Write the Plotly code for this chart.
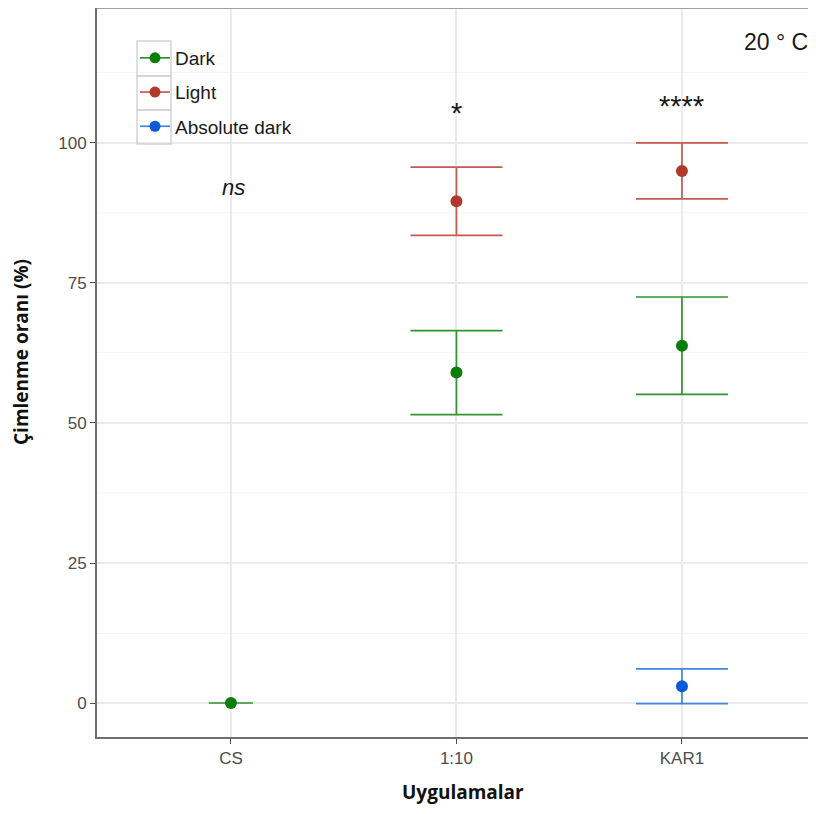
import plotly.graph_objects as go

categories = ["CS", "1:10", "KAR1"]
dark_x = ["CS", "1:10", "KAR1"]
dark_mean = [0.0, 59.0, 63.8]
dark_err = [0.0, 7.5, 8.7]
light_x = ["1:10", "KAR1"]
light_mean = [89.6, 95.0]
light_err = [6.1, 5.0]
abs_x = ["KAR1"]
abs_mean = [3.0]
abs_err = [3.1]
sig_x = ["CS", "1:10", "KAR1"]
sig_y = [92, 105.4, 106.6]
sig_text = ["<i>ns</i>", "*", "****"]

xpos = {c: i + 1 for i, c in enumerate(categories)}

GREEN = "#0b7d0b"
RED = "#b0392b"
BLUE = "#0a5ad6"
GREEN_E = "#2f952f"
RED_E = "#c45a50"
BLUE_E = "#3f88e0"

# figure is drawn with an 8px page offset
W, H = 800, 798
L, R, T, B = 89, 0, 0, 69
# screen coords of the plot area
SX0, SX1, SY0, SY1 = 97, 808, 8, 737

def px(x):
    return (x - SX0) / (SX1 - SX0)

def py(y):
    return (SY1 - y) / (SY1 - SY0)

fig = go.Figure()

def add_series(xs, ms, es, col, ecol, width):
    fig.add_trace(go.Scatter(
        x=[xpos[c] for c in xs], y=ms, mode="markers",
        marker=dict(color=col, size=12),
        error_y=dict(type="data", array=es, visible=True, color=ecol, thickness=1.7, width=width),
        showlegend=False, hoverinfo="skip"))

add_series(dark_x[:1], dark_mean[:1], dark_err[:1], GREEN, GREEN_E, 22)
add_series(dark_x[1:], dark_mean[1:], dark_err[1:], GREEN, GREEN_E, 46)
add_series(light_x, light_mean, light_err, RED, RED_E, 46)
add_series(abs_x, abs_mean, abs_err, BLUE, BLUE_E, 46)

for name, col, ecol, g in [("Dark", GREEN, GREEN_E, "a"), ("Light", RED, RED_E, "b"), ("Absolute dark", BLUE, BLUE_E, "c")]:
    fig.add_trace(go.Scatter(x=[None], y=[None], mode="lines+markers", name=name,
                             legendgroup=g,
                             marker=dict(color=col, size=11), line=dict(color=ecol, width=1.7)))

for c, yv, t in zip(sig_x, sig_y, sig_text):
    fig.add_annotation(x=xpos[c], y=yv, text=t, showarrow=False,
                       xshift=3 if "ns" in t else 0,
                       font=dict(family="Liberation Sans, Arial", size=22 if "ns" in t else 29, color="#1a1a1a"))

fig.add_annotation(x=px(776), y=py(42), xref="paper", yref="paper", text="20 ° C", showarrow=False,
                   xanchor="center", yanchor="middle",
                   font=dict(family="Liberation Sans, Arial", size=23, color="#1a1a1a"))

# axis titles
fig.add_annotation(x=px(21), y=py(352), xref="paper", yref="paper", text="<b>Çimlenme oranı (%)</b>",
                   textangle=-90, showarrow=False, xanchor="center", yanchor="middle",
                   font=dict(family="Open Sans", size=19, color="#111"))
fig.add_annotation(x=px(463), y=py(806), xref="paper", yref="paper", text="<b>Uygulamalar</b>",
                   showarrow=False, xanchor="center", yanchor="bottom", borderpad=0,
                   font=dict(family="Open Sans", size=19, color="#111"))

shapes = []
# legend background (covers grid, under traces)
shapes.append(dict(type="rect", xref="paper", yref="paper", x0=px(133), x1=px(302), y0=py(150), y1=py(36),
                   fillcolor="white", line=dict(width=0), layer="between"))
# top border
shapes.append(dict(type="line", xref="paper", yref="paper", x0=0, x1=1, y0=1, y1=1,
                   line=dict(color="#a0a0a0", width=2)))
# legend key boxes
tops = [41, 76, 110, 144]
for i in range(3):
    shapes.append(dict(type="rect", xref="paper", yref="paper",
                       x0=px(137), x1=px(171), y0=py(tops[i]), y1=py(tops[i + 1]),
                       line=dict(color="#d4d4d4", width=1.5), layer="above"))
fig.update_layout(shapes=shapes)

fig.update_layout(
    width=W, height=H,
    margin=dict(l=L, r=R, t=T, b=B),
    paper_bgcolor="white", plot_bgcolor="white",
    font=dict(family="Liberation Sans, Arial", color="#4d4d4d"),
    legend=dict(x=px(135), y=py(39), xanchor="left", yanchor="top",
                bgcolor="rgba(255,255,255,0)", font=dict(size=19, color="#1a1a1a"),
                tracegroupgap=6.5, traceorder="grouped"),
    xaxis=dict(range=[0.406, 3.559], tickmode="array", tickvals=[1, 2, 3], ticktext=categories,
               showgrid=True, gridcolor="#ebebeb", gridwidth=1.5, zeroline=False,
               showline=True, linecolor="#6e6e6e", linewidth=2,
               ticks="outside", ticklen=5, tickcolor="#4d4d4d",
               tickfont=dict(size=17, color="#4d4d4d")),
    yaxis=dict(range=[-6.07, 124.1], tickvals=[0, 25, 50, 75, 100],
               showgrid=True, gridcolor="#ebebeb", gridwidth=1.5, zeroline=False,
               minor=dict(tickvals=[12.5, 37.5, 62.5, 87.5, 112.5], showgrid=True, gridcolor="#f5f5f5", gridwidth=1),
               showline=True, linecolor="#6e6e6e", linewidth=2,
               ticks="outside", ticklen=5, tickcolor="#4d4d4d",
               tickfont=dict(size=17, color="#4d4d4d")),
)

fig.write_html("out.html")
